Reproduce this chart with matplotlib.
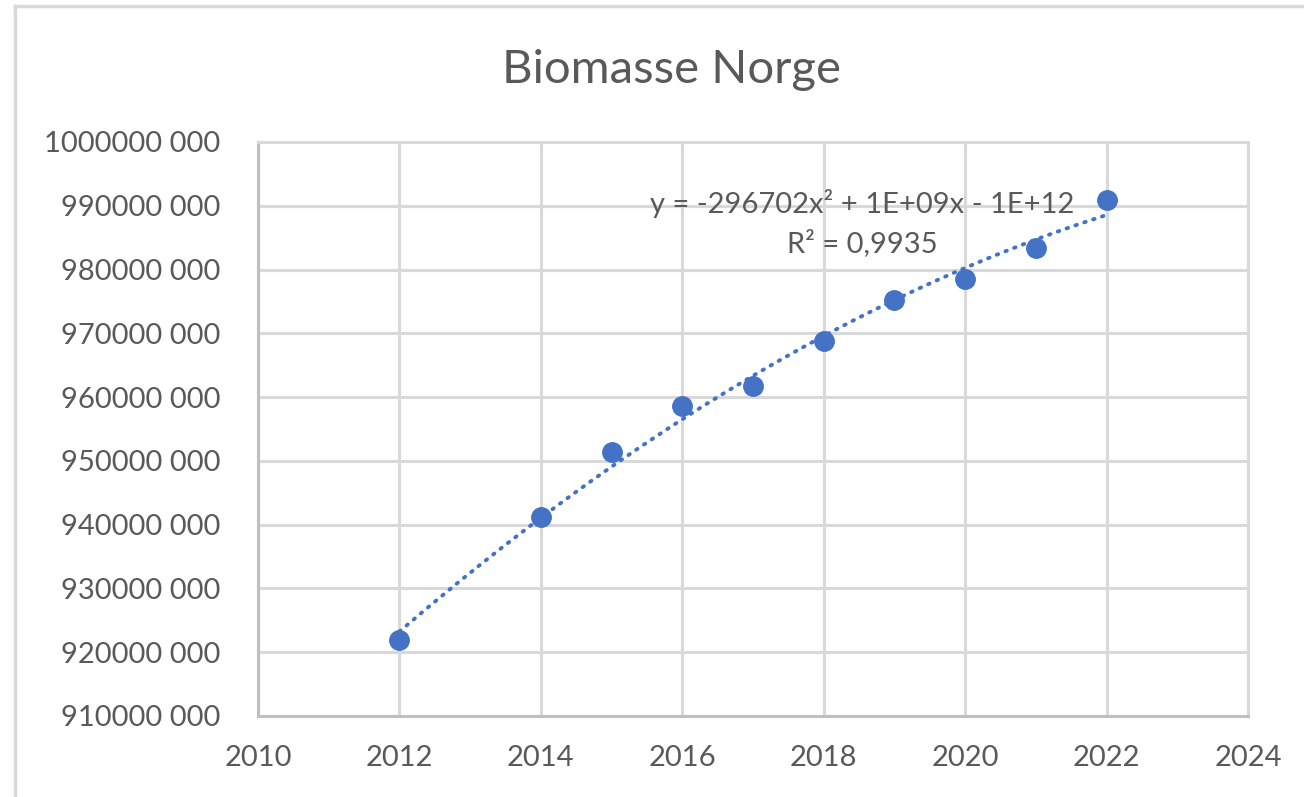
import matplotlib.pyplot as plt
import numpy as np
from matplotlib.ticker import FuncFormatter
from matplotlib.lines import Line2D

# data
years = np.array([2012, 2014, 2015, 2016, 2017, 2018, 2019, 2020, 2021, 2022])
biomasse = np.array([921.9, 941.2, 951.4, 958.6, 961.7, 968.8, 975.2, 978.5, 983.4, 990.9]) * 1e6

title = "Biomasse Norge"
eq_text = "y = -296702x² + 1E+09x - 1E+12"
r2_text = "R² = 0,9935"

blue = "#4472C4"
grey_txt = "#595959"
grid_col = "#d9d9d9"

plt.rcParams["font.family"] = ["Lato", "DejaVu Sans"]

fig = plt.figure(figsize=(13.04, 7.97), dpi=100)
ax = fig.add_axes([258 / 1304, 1 - 716 / 797, 990 / 1304, 574 / 797])

# trendline (2nd order polynomial)
coef = np.polyfit(years - 2012, biomasse, 2)
xs = np.linspace(years.min(), years.max(), 200)
ax.plot(xs, np.polyval(coef, xs - 2012), color=blue, lw=2.8,
        linestyle=(0, (0.4, 2.0)), dash_capstyle="round", zorder=3)

ax.plot(years, biomasse, "o", color=blue, ms=14, zorder=4)

ax.set_xlim(2010, 2024)
ax.set_ylim(910e6, 1000e6)
ax.set_xticks(np.arange(2010, 2025, 2))
ax.set_yticks(np.arange(910e6, 1000e6 + 1, 10e6))
ax.yaxis.set_major_formatter(FuncFormatter(
    lambda v, p: "%d %03d" % (int(round(v)) // 1000, int(round(v)) % 1000)))

ax.grid(True, color=grid_col, lw=2.2)
ax.set_axisbelow(True)
for s in ax.spines.values():
    s.set_color(grid_col)
    s.set_linewidth(2.2)
ax.spines["left"].set_color("#bfbfbf")
ax.spines["bottom"].set_color("#bfbfbf")
ax.tick_params(length=0, labelsize=21, labelcolor=grey_txt)
ax.tick_params(axis="y", pad=27)
ax.tick_params(axis="x", pad=21)

fig.text(0.5148, 1 - 70 / 797, title, ha="center", va="center",
         fontsize=34, color=grey_txt)

ax.text(2018.55, 990.4e6, eq_text, ha="center", va="center",
        fontsize=21, color=grey_txt)
ax.text(2018.55, 984.2e6, r2_text, ha="center", va="center",
        fontsize=21, color=grey_txt)

# outer chart border
fig.add_artist(Line2D([15 / 1304, 1.0], [1 - 6 / 797, 1 - 6 / 797],
                      transform=fig.transFigure, color=grid_col, lw=2.5))
fig.add_artist(Line2D([15 / 1304, 15 / 1304], [0, 1 - 6 / 797],
                      transform=fig.transFigure, color=grid_col, lw=2.5))

fig.savefig("out.png", dpi=100)
